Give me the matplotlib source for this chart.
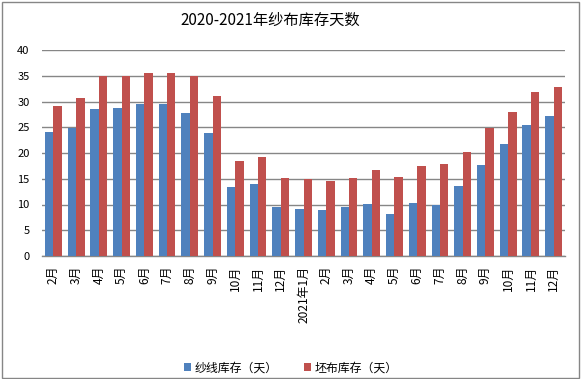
import matplotlib
matplotlib.use("Agg")
import matplotlib.pyplot as plt
import numpy as np
from matplotlib.patches import Rectangle

plt.rcParams['font.family'] = ['Noto Sans CJK SC', 'DejaVu Sans']

categories = ["2月", "3月", "4月", "5月", "6月", "7月", "8月", "9月", "10月", "11月", "12月",
              "2021年1月", "2月", "3月", "4月", "5月", "6月", "7月", "8月", "9月", "10月", "11月", "12月"]
yarn = [24.0, 24.9, 28.5, 28.7, 29.6, 29.6, 27.7, 23.8, 13.4, 13.9, 9.5,
        9.1, 8.9, 9.5, 10.1, 8.1, 10.3, 9.9, 13.6, 17.6, 21.7, 25.4, 27.1]
grey = [29.1, 30.6, 35.0, 35.0, 35.6, 35.6, 35.0, 31.0, 18.4, 19.2, 15.1,
        14.9, 14.5, 15.1, 16.7, 15.3, 17.4, 17.8, 20.1, 24.9, 27.9, 31.8, 32.9]
yticks = [0, 5, 10, 15, 20, 25, 30, 35, 40]
title = "2020-2021年纱布库存天数"
labels = ["纱线库存（天）", "坯布库存（天）"]

fig = plt.figure(figsize=(5.81, 3.79), dpi=100)
ax = fig.add_axes([42/581, 1-256/379, (565-42)/581, (256-50)/379])

x = np.arange(len(categories))
w = 0.37
ax.bar(x - w/2, yarn, w, color="#4F81BD", label=labels[0], zorder=3)
ax.bar(x + w/2, grey, w, color="#C0504D", label=labels[1], zorder=3)

ax.set_xlim(-0.5, len(categories) - 0.5)
ax.set_ylim(0, 40)
ax.set_yticks(yticks)
ax.set_yticklabels([str(v) for v in yticks], fontsize=8)
ax.yaxis.grid(True, color="#868686", linewidth=1.0, zorder=0)
ax.set_axisbelow(True)
ax.set_xticks(x)
ax.set_xticklabels(categories, rotation=90, fontsize=8.6, va="top")
ax.tick_params(axis="both", length=0)
ax.tick_params(axis="x", pad=7)
ax.tick_params(axis="y", pad=9)
for s in ["left", "right", "top"]:
    ax.spines[s].set_visible(False)
ax.spines["bottom"].set_color("#868686")
ax.spines["bottom"].set_linewidth(1.0)

fig.text(270/581, 1-20/379, title, ha="center", va="center", fontsize=11, fontweight="medium")

leg = fig.legend(loc="center", bbox_to_anchor=(291/581, 1-368/379), ncol=2, frameon=False,
                 fontsize=8.6, handlelength=0.6, handleheight=0.6, handletextpad=0.3, columnspacing=2.2)

fig.patches.append(Rectangle((2/581, 1/379), 577/581, 376/379, transform=fig.transFigure,
                             fill=False, edgecolor="#868686", linewidth=1.0))

fig.savefig("out.png", dpi=100)
